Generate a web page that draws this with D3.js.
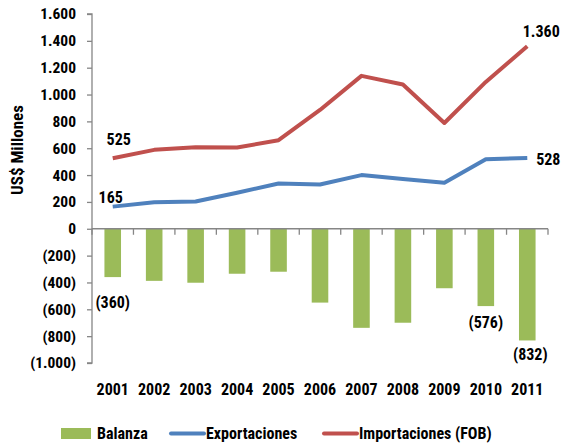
<!DOCTYPE html>
<html><head><meta charset="utf-8">
<script src="https://cdn.jsdelivr.net/npm/d3@7/dist/d3.min.js"></script>
<style>
body{margin:0;background:#fff;}
text{font-family:"Liberation Sans Narrow","Roboto Condensed","DejaVu Sans Condensed",sans-serif;font-weight:bold;fill:#000;}
</style></head><body>
<svg id="c" width="563" height="444"></svg>
<script>
const years = ["2001","2002","2003","2004","2005","2006","2007","2008","2009","2010","2011"];
const balanza = [-360,-388,-402,-335,-320,-550,-738,-700,-443,-576,-832];
const exportaciones = [165,198,203,268,337,330,400,370,342,518,528];
const importaciones = [525,588,608,605,660,885,1139,1075,788,1094,1360];
const yTicks = [-1000,-800,-600,-400,-200,0,200,400,600,800,1000,1200,1400,1600];
const seriesNames = ["Balanza","Exportaciones","Importaciones (FOB)"];

const colors = {bar:"#9BBB59", exp:"#4F81BD", imp:"#C0504D", axis:"#868686"};
const svg = d3.select("#c");
const L = 92, R = 548, T = 14, B = 363;
const x = d3.scaleBand().domain(years).range([L,R]).paddingInner(0.6).paddingOuter(0.3);
const xb = d3.scaleBand().domain(years).range([L,R]);
const y = d3.scaleLinear().domain([-1000,1600]).range([B,T]);

const fmtNum = v => {
  const s = d3.format(",")(Math.abs(v)).replace(/,/g,".");
  return v < 0 ? "(" + s + ")" : s;
};

// bars
svg.append("g").selectAll("rect").data(balanza).join("rect")
  .attr("x",(d,i)=>x(years[i])).attr("width",x.bandwidth())
  .attr("y",d=>y(Math.max(0,d))).attr("height",d=>Math.abs(y(d)-y(0)))
  .attr("fill",colors.bar);

// y axis
const yAxis = d3.axisLeft(y).tickValues(yTicks).tickSize(5).tickFormat(fmtNum);
const gy = svg.append("g").attr("transform",`translate(${L},0)`).call(yAxis);
gy.select(".domain").attr("stroke",colors.axis).attr("stroke-width",1.3).attr("d",`M-5,${T}H0V${B}H-5`);
gy.selectAll(".tick line").attr("stroke",colors.axis).attr("stroke-width",1.3);
gy.selectAll(".tick text").attr("x",-16).style("font-size","15.5px")
  .style("font-family",'"Liberation Sans Narrow","Roboto Condensed","DejaVu Sans Condensed",sans-serif').style("font-weight","bold").attr("fill","#000");

// x axis at zero
const xAxis = d3.axisBottom(xb).tickSize(0).tickFormat("");
const gx = svg.append("g").attr("transform",`translate(0,${y(0)})`).call(xAxis);
gx.select(".domain").attr("stroke",colors.axis).attr("stroke-width",1.3).attr("d",`M${L},0H${R}`);
const bounds = years.map(d=>xb(d)).concat([R]);
gx.selectAll(".bt").data(bounds).join("line").attr("class","bt")
  .attr("x1",d=>d).attr("x2",d=>d).attr("y1",0).attr("y2",6)
  .attr("stroke",colors.axis).attr("stroke-width",1.3);

// x labels
svg.append("g").selectAll("text").data(years).join("text")
  .attr("x",d=>xb(d)+xb.bandwidth()/2).attr("y",395)
  .attr("text-anchor","middle").style("font-size","16px").text(d=>d);

// lines
const line = d3.line().x((d,i)=>xb(years[i])+xb.bandwidth()/2).y(d=>y(d));
svg.append("path").datum(exportaciones).attr("d",line).attr("fill","none")
  .attr("stroke",colors.exp).attr("stroke-width",4).attr("stroke-linejoin","round");
svg.append("path").datum(importaciones).attr("d",line).attr("fill","none")
  .attr("stroke",colors.imp).attr("stroke-width",4).attr("stroke-linejoin","round");

// data labels
const cx = i => xb(years[i])+xb.bandwidth()/2;
const labels = [
  {s:importaciones,i:0,dx:6,dy:-13},
  {s:exportaciones,i:0,dx:-2,dy:-4},
  {s:importaciones,i:10,dx:14,dy:-9},
  {s:exportaciones,i:10,dx:21,dy:7},
  {s:balanza,i:0,dx:0,dy:31},
  {s:balanza,i:9,dx:0,dy:22},
  {s:balanza,i:10,dx:3,dy:20}
];
svg.append("g").selectAll("text").data(labels).join("text")
  .attr("x",d=>cx(d.i)+d.dx)
  .attr("y",d=>y(d.s[d.i])+d.dy)
  .attr("text-anchor","middle").style("font-size","16px")
  .text(d=>fmtNum(d.s[d.i]));

// y title
svg.append("text").attr("transform","translate(23,150) rotate(-90)")
  .attr("text-anchor","middle").style("font-size","17px").text("US$ Millones");

// legend
const lg = svg.append("g");
lg.append("rect").attr("x",61).attr("y",428).attr("width",30).attr("height",11).attr("fill",colors.bar);
lg.append("text").attr("x",97).attr("y",439).style("font-size","16px").text(seriesNames[0]);
lg.append("line").attr("x1",171).attr("x2",204).attr("y1",433.5).attr("y2",433.5).attr("stroke",colors.exp).attr("stroke-width",4).attr("stroke-linecap","round");
lg.append("text").attr("x",206).attr("y",439).style("font-size","16px").text(seriesNames[1]);
lg.append("line").attr("x1",324).attr("x2",357).attr("y1",433.5).attr("y2",433.5).attr("stroke",colors.imp).attr("stroke-width",4).attr("stroke-linecap","round");
lg.append("text").attr("x",359).attr("y",439).style("font-size","16px").text(seriesNames[2]);
</script>
</body></html>
